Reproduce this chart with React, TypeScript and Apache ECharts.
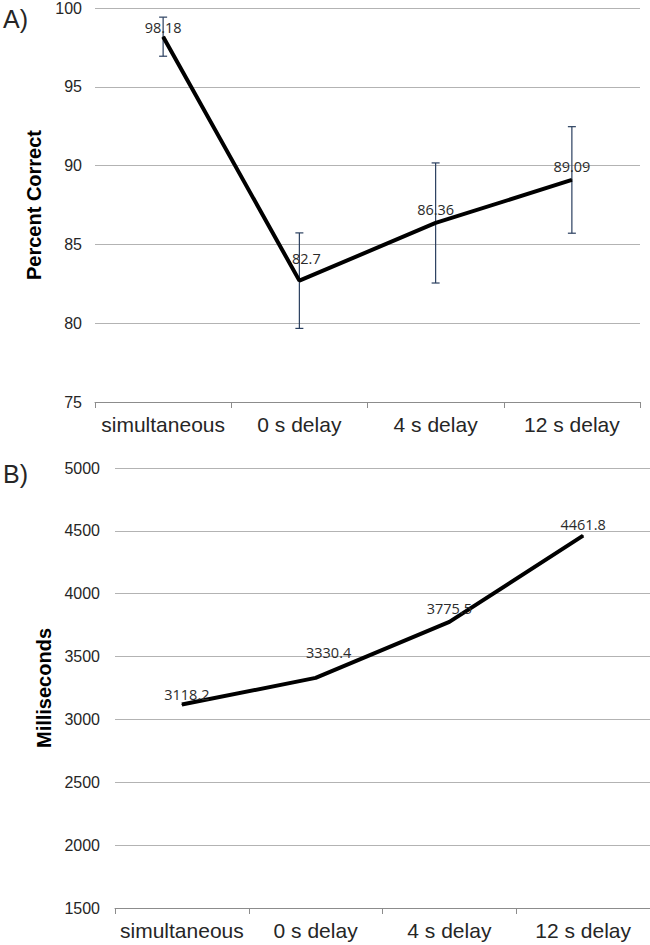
import React, { useEffect, useRef } from "react";
import * as echarts from "echarts";

const categories = ["simultaneous", "0 s delay", "4 s delay", "12 s delay"];
const percentCorrect = [98.18, 82.7, 86.36, 89.09];
const percentError = [1.24, 3.03, 3.81, 3.38];
const milliseconds = [3118.2, 3330.4, 3775.5, 4461.8];
const labelOffsetsA = [[0, 4], [7, -9], [0, 0], [0, 0]];
const labelOffsetsB = [[5, 3], [13, -12], [0, 0], [0, 2]];

const FONT = "Liberation Sans, Arial, sans-serif";
const TEXT = "#262626";
const GRID = "#b3b3b3";
const AXIS = "#8c8c8c";
const ERR = "#2a3f5f";

export default function App() {
  const ref = useRef<HTMLDivElement>(null);
  useEffect(() => {
    if (!ref.current) return;
    const chart = echarts.init(ref.current, undefined, { renderer: "svg" });
    const xAxisCommon = {
      type: "category" as const,
      data: categories,
      boundaryGap: true,
      axisLine: { show: true, lineStyle: { color: AXIS, width: 1 } },
      axisTick: { show: true, interval: 0, length: 6, lineStyle: { color: AXIS } },
      axisLabel: { interval: 0, fontSize: 21, color: TEXT, fontFamily: FONT, margin: 12 },
    };
    const yAxisCommon = {
      type: "value" as const,
      axisLine: { show: false },
      axisTick: { show: false },
      splitLine: { lineStyle: { color: GRID, width: 1 } },
      nameLocation: "middle" as const,
      nameTextStyle: { fontSize: 20, fontWeight: "bold" as const, color: "#000", fontFamily: FONT },
    };
    const valueLabel = {
      show: true,
      position: "top" as const,
      fontSize: 14.5,
      color: "#2b2b2b",
      fontFamily: "Open Sans, Liberation Sans, sans-serif",
      formatter: (p: any) => String(p.value),
    };
    const errData = percentCorrect.map((v, i) => [i, v - percentError[i], v + percentError[i]]);
    chart.setOption({
      animation: false,
      grid: [
        { left: 95, width: 545, top: 7, height: 395 },
        { left: 115, width: 535, top: 468, height: 440 },
      ],
      xAxis: [
        { ...xAxisCommon, gridIndex: 0 },
        { ...xAxisCommon, gridIndex: 1 },
      ],
      yAxis: [
        {
          ...yAxisCommon,
          gridIndex: 0,
          min: 75,
          max: 100,
          interval: 5,
          name: "Percent Correct",
          nameGap: 47,
          axisLabel: { fontSize: 16, color: TEXT, fontFamily: FONT, margin: 13, formatter: (v: number) => String(v) },
        },
        {
          ...yAxisCommon,
          gridIndex: 1,
          min: 1500,
          max: 5000,
          interval: 500,
          name: "Milliseconds",
          nameGap: 59,
          axisLabel: { fontSize: 16, color: TEXT, fontFamily: FONT, margin: 15, formatter: (v: number) => String(v) },
        },
      ],
      graphic: [
        { type: "text", left: 3, top: 6, style: { text: "A)", fontSize: 25, fill: TEXT, fontFamily: FONT } },
        { type: "text", left: 3, top: 461, style: { text: "B)", fontSize: 25, fill: TEXT, fontFamily: FONT } },
      ],
      series: [
        {
          type: "custom",
          xAxisIndex: 0,
          yAxisIndex: 0,
          z: 1,
          data: errData,
          encode: { x: 0, y: [1, 2] },
          renderItem: (params: any, api: any) => {
            const x = api.value(0);
            const lo = api.coord([x, api.value(1)]);
            const hi = api.coord([x, api.value(2)]);
            const hw = 4;
            const style = { stroke: ERR, lineWidth: 1.2 };
            return {
              type: "group",
              children: [
                { type: "line", shape: { x1: hi[0], y1: hi[1], x2: lo[0], y2: lo[1] }, style },
                { type: "line", shape: { x1: hi[0] - hw, y1: hi[1], x2: hi[0] + hw, y2: hi[1] }, style },
                { type: "line", shape: { x1: lo[0] - hw, y1: lo[1], x2: lo[0] + hw, y2: lo[1] }, style },
              ],
            };
          },
        },
        {
          type: "line",
          xAxisIndex: 0,
          yAxisIndex: 0,
          z: 3,
          symbol: "circle",
          symbolSize: 1,
          showSymbol: true,
          itemStyle: { color: "#000" },
          lineStyle: { color: "#000", width: 4 },
          data: percentCorrect.map((v, i) => ({
            value: v,
            label: { offset: labelOffsetsA[i] },
          })),
          label: valueLabel,
        },
        {
          type: "line",
          xAxisIndex: 1,
          yAxisIndex: 1,
          z: 3,
          symbol: "circle",
          symbolSize: 1,
          showSymbol: true,
          itemStyle: { color: "#000" },
          lineStyle: { color: "#000", width: 4 },
          data: milliseconds.map((v, i) => ({
            value: v,
            label: { offset: labelOffsetsB[i] },
          })),
          label: valueLabel,
        },
      ],
    });
    return () => chart.dispose();
  }, []);
  return (
    <div
      ref={ref}
      style={{ position: "fixed", left: 0, top: 0, width: 650, height: 945, background: "#fff" }}
    />
  );
}
